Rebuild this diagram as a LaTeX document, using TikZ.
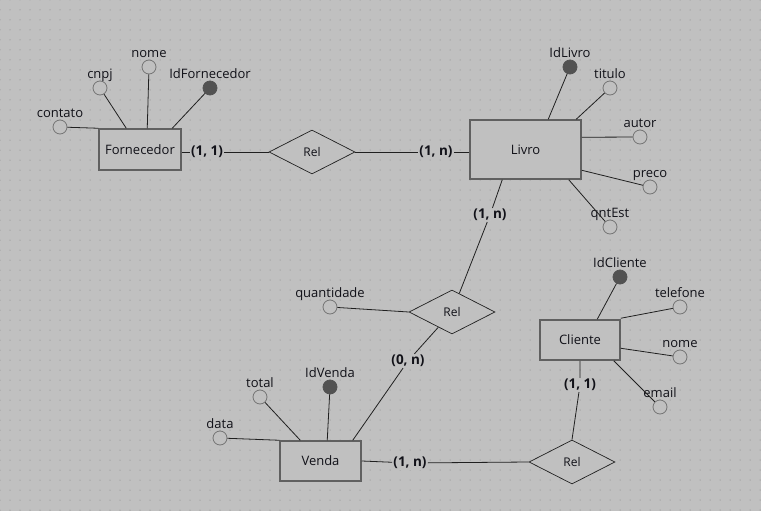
\documentclass[tikz,border=0pt]{standalone}
\usepackage{fontspec}
\setmainfont{Open Sans}
\usetikzlibrary{shapes.geometric,calc}
\definecolor{bg}{HTML}{C0C0C0}
\definecolor{dotc}{HTML}{808080}
\definecolor{entb}{HTML}{606060}
\definecolor{attrb}{HTML}{747474}
\definecolor{keyc}{HTML}{525252}
\definecolor{linec}{HTML}{202020}
\definecolor{txt}{HTML}{111118}
\tikzset{
  entity/.style={draw=entb, line width=1.5pt, fill=bg, text=txt, inner sep=0pt,
    font=\fontsize{13}{15}\selectfont},
  relbox/.style={diamond, draw=linec, line width=0.7pt, fill=bg, aspect=2,
    minimum width=86pt, minimum height=44pt, inner sep=0pt, text=txt,
    font=\fontsize{12}{14}\selectfont},
  attrlab/.style={text=txt, inner sep=1pt, text height=9.5pt, text depth=3pt,
    font=\fontsize{13}{15}\selectfont},
  attr/.style={circle, draw=attrb, line width=0.8pt, fill=bg, minimum size=14pt,
    inner sep=0pt, label={[attrlab, label distance=-2pt]above:#1}},
  keyattr/.style={attr=#1, fill=keyc, draw=keyc},
  card/.style={font=\bfseries\fontsize{13.5}{15}\selectfont, fill=bg, text=txt, inner sep=1pt},
  link/.style={draw=linec, line width=0.8pt},
}
\begin{document}
\begin{tikzpicture}[x=1pt,y=-1pt]
\fill[bg] (0,0) rectangle (761,511);
\useasboundingbox (0,0) rectangle (761,511);
\foreach \i in {0,...,76} {\foreach \j in {0,...,51} {\fill[dotc] (10*\i,10*\j) circle (0.5);}}

% entities
\node[entity, minimum width=82pt, minimum height=41pt] (forn) at (140,149.5) {Fornecedor};
\node[entity, minimum width=111pt, minimum height=59pt] (livro) at (525.5,149.5) {Livro};
\node[entity, minimum width=80pt, minimum height=40pt] (cli) at (580,340) {Cliente};
\node[entity, minimum width=81pt, minimum height=40pt] (venda) at (320.5,461) {Venda};

% relationships
\node[relbox] (rel1) at (312,152) {Rel};
\node[relbox] (rel2) at (452,312) {Rel};
\node[relbox] (rel3) at (572,462) {Rel};

% attributes
\node[attr=contato] (contato) at (60,127) {};
\node[attr=cnpj] (cnpj) at (100,88) {};
\node[attr=nome] (nome) at (149,67) {};
\node[keyattr=IdFornecedor] (idforn) at (210,88) {};

\node[keyattr=IdLivro] (idlivro) at (570,67) {};
\node[attr=titulo] (titulo) at (610,88) {};
\node[attr=autor] (autor) at (640,137) {};
\node[attr=preco] (preco) at (650,187) {};
\node[attr=qntEst] (qnt) at (610,227) {};

\node[attr=quantidade] (quant) at (330,307) {};

\node[keyattr=IdVenda] (idvenda) at (330,387) {};
\node[attr=total] (total) at (260,397) {};
\node[attr=data] (data) at (220,438) {};

\node[keyattr=IdCliente] (idcli) at (620,277) {};
\node[attr=telefone] (tel) at (680,307) {};
\node[attr=nome] (nomecli) at (680,357) {};
\node[attr=email] (email) at (660,407) {};

% cardinalities
\node[card] (c1) at (207,152) {(1, 1)};
\node[card] (c2) at (436,152) {(1, n)};
\node[card] (c3) at (490,215) {(1, n)};
\node[card] (c4) at (408,361) {(0, n)};
\node[card] (c5) at (410,463) {(1, n)};
\node[card] (c6) at (580,385) {(1, 1)};

% attribute links
\draw[link] (contato) -- (forn.north west);
\draw[link] (cnpj) -- ($(forn.north west)+(28,0)$);
\draw[link] (nome) -- ($(forn.north west)+(49,0)$);
\draw[link] (idforn) -- ($(forn.north west)+(74,0)$);

\draw[link] (idlivro) -- ($(livro.north west)+(79,0)$);
\draw[link] (titulo) -- ($(livro.north west)+(107,0)$);
\draw[link] (autor) -- ($(livro.north east)+(0,18)$);
\draw[link] (preco) -- ($(livro.north east)+(0,51)$);
\draw[link] (qnt) -- ($(livro.south east)+(-13,0)$);

\draw[link] (quant) -- (rel2.west);

\draw[link] (data) -- (venda.north west);
\draw[link] (total) -- ($(venda.north west)+(21,0)$);
\draw[link] (idvenda) -- ($(venda.north west)+(48,0)$);

\draw[link] (idcli) -- ($(cli.north west)+(58,0)$);
\draw[link] (tel) -- ($(cli.north east)+(0,-1)$);
\draw[link] (nomecli) -- ($(cli.north east)+(0,29)$);
\draw[link] (email) -- ($(cli.south east)+(-7,0)$);

% relationship links
\draw[link] (forn.east |- c1) -- (c1) -- (rel1.west);
\draw[link] (rel1.east) -- (c2) -- (rel1.east -| livro.west);
\draw[link] ($(livro.south west)+(33,0)$) -- (c3) -- (rel2);
\draw[link] (rel2) -- (c4) -- ($(venda.north east)+(-9,0)$);
\draw[link] (venda.east) -- (c5) -- (rel3.west);
\draw[link] (cli.south) -- (c6) -- (rel3.north);
\end{tikzpicture}
\end{document}
